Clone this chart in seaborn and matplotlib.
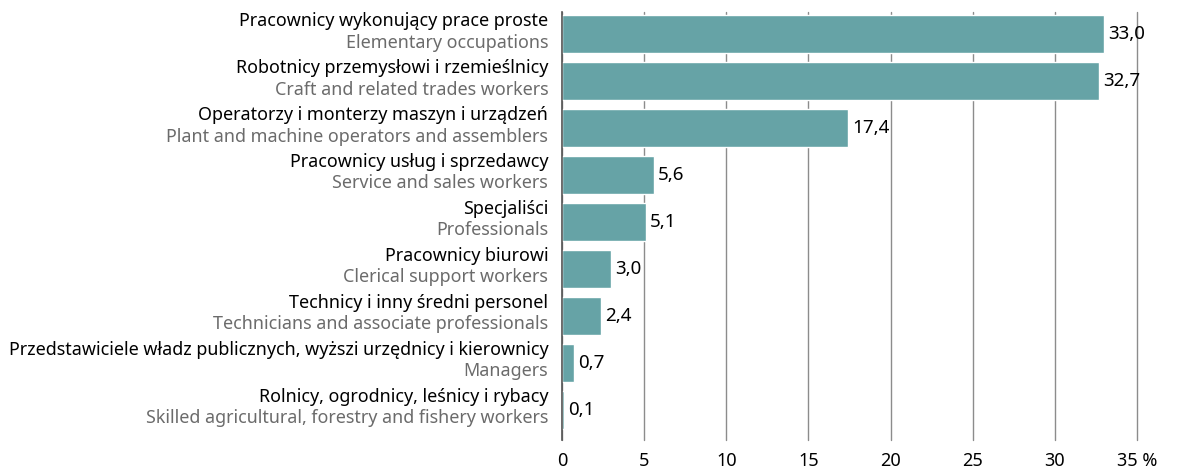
import matplotlib
matplotlib.use("Agg")
import matplotlib.pyplot as plt
import matplotlib.transforms as mtransforms
import seaborn as sns
import pandas as pd

labels_pl = [
    "Pracownicy wykonujący prace proste",
    "Robotnicy przemysłowi i rzemieślnicy",
    "Operatorzy i monterzy maszyn i urządzeń",
    "Pracownicy usług i sprzedawcy",
    "Specjaliści",
    "Pracownicy biurowi",
    "Technicy i inny średni personel",
    "Przedstawiciele władz publicznych, wyższi urzędnicy i kierownicy",
    "Rolnicy, ogrodnicy, leśnicy i rybacy",
]
labels_en = [
    "Elementary occupations",
    "Craft and related trades workers",
    "Plant and machine operators and assemblers",
    "Service and sales workers",
    "Professionals",
    "Clerical support workers",
    "Technicians and associate professionals",
    "Managers",
    "Skilled agricultural, forestry and fishery workers",
]
values = [33.0, 32.7, 17.4, 5.6, 5.1, 3.0, 2.4, 0.7, 0.1]
xticks = [0, 5, 10, 15, 20, 25, 30, 35]
xtick_labels = ["0", "5", "10", "15", "20", "25", "30", "35 %"]

BAR = "#66a3a6"

sns.set_style("white")
plt.rcParams["font.family"] = ["Noto Sans", "DejaVu Sans"]

df = pd.DataFrame({"cat": labels_pl, "val": values})

fig = plt.figure(figsize=(11.78, 4.70), dpi=100)
ax = fig.add_axes([562 / 1178, 30 / 470, (1137 - 562) / 1178, (458 - 30) / 470])

sns.barplot(data=df, y="cat", x="val", orient="h", color=BAR, saturation=1,
            width=0.81, ax=ax, zorder=3)

ax.set_xlim(0, 35)
ax.set_ylim(len(values) - 1 + 0.64, -0.47)
ax.set_xticks(xticks)
ax.set_xticklabels(xtick_labels, fontsize=13, color="#000000")
ax.set_yticks([])
ax.set_xlabel("")
ax.set_ylabel("")
ax.tick_params(axis="x", length=0, pad=9)

for s in ["top", "right", "bottom"]:
    ax.spines[s].set_visible(False)
ax.spines["left"].set_color("#555555")
ax.spines["left"].set_linewidth(1.2)
ax.spines["left"].set_zorder(4)
ax.grid(axis="x", color="#8c8c8c", linewidth=1, zorder=0)
for gl in ax.get_xgridlines():
    gl.set_clip_on(False)

trans = mtransforms.blended_transform_factory(ax.transAxes, ax.transData)
for i, (pl, en, v) in enumerate(zip(labels_pl, labels_en, values)):
    ax.text(-0.024, i - 0.27, pl, transform=trans, ha="right", va="center",
            fontsize=12.9, color="#000000")
    ax.text(-0.024, i + 0.18, en, transform=trans, ha="right", va="center",
            fontsize=12.9, color="#6b6b6b")
    ax.annotate(f"{v:.1f}".replace(".", ","), (v, i), xytext=(3, 0),
                textcoords="offset points", ha="left", va="center",
                fontsize=13.5, color="#000000", zorder=5)

fig.savefig("out.png", dpi=100)
